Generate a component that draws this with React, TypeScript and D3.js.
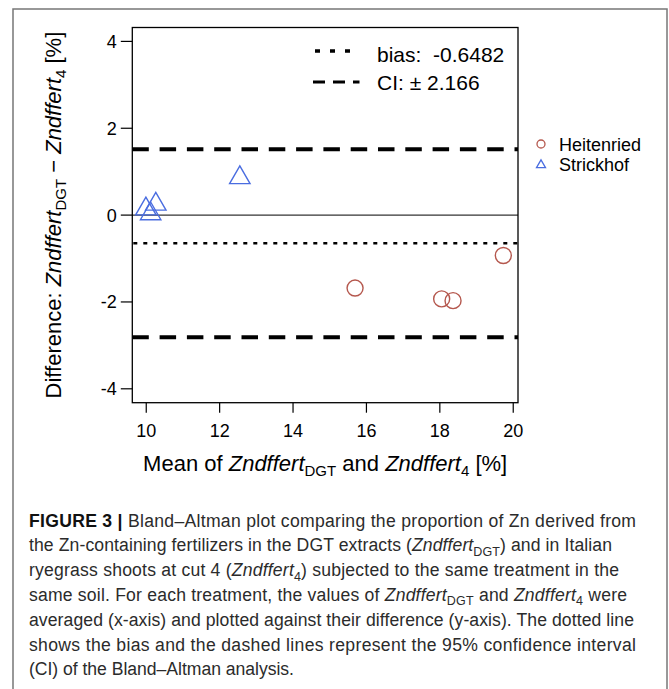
import React, { useEffect, useRef } from 'react';
import * as d3 from 'd3';

// values
const heitenriedX = [15.69, 18.05, 18.36, 19.73];
const heitenriedY = [-1.68, -1.93, -1.97, -0.93];
const strickhofX = [9.99, 10.12, 10.26, 12.55];
const strickhofY = [0.14, 0.03, 0.25, 0.86];
const bias = -0.6482;
const ciHalf = 2.166;
const xTicks = [10, 12, 14, 16, 18, 20];
const yTicks = [-4, -2, 0, 2, 4];
const seriesNames = ['Heitenried', 'Strickhof'];

type Seg = { t: string; s?: 'b' | 'i' | 'sub' };
const captionLines: Seg[][] = [
  [{ t: 'FIGURE 3 | ', s: 'b' }, { t: 'Bland–Altman plot comparing the proportion of Zn derived from' }],
  [
    { t: 'the Zn-containing fertilizers in the DGT extracts (' },
    { t: 'Zndffert', s: 'i' },
    { t: 'DGT', s: 'sub' },
    { t: ') and in Italian' },
  ],
  [
    { t: 'ryegrass shoots at cut 4 (' },
    { t: 'Zndffert', s: 'i' },
    { t: '4', s: 'sub' },
    { t: ') subjected to the same treatment in the' },
  ],
  [
    { t: 'same soil. For each treatment, the values of ' },
    { t: 'Zndffert', s: 'i' },
    { t: 'DGT', s: 'sub' },
    { t: ' and ' },
    { t: 'Zndffert', s: 'i' },
    { t: '4', s: 'sub' },
    { t: ' were' },
  ],
  [{ t: 'averaged (x-axis) and plotted against their difference (y-axis). The dotted line' }],
  [{ t: 'shows the bias and the dashed lines represent the 95% confidence interval' }],
  [{ t: '(CI) of the Bland–Altman analysis.' }],
];
// measured line widths of the caption in the figure
const captionWidths = [607, 583, 590, 598, 605, 607, 265];

const W = 669;
const H = 689;
const FONT = 'Arial, "Liberation Sans", Helvetica, sans-serif';
const RED = '#b5584e';
const BLUE = '#4a6de0';

const triangle = (r: number) => {
  const hw = r * 0.866;
  return `M0,${-r}L${hw},${r / 2}L${-hw},${r / 2}Z`;
};

const App: React.FC = () => {
  const svgRef = useRef<SVGSVGElement>(null);

  useEffect(() => {
    if (!svgRef.current) return;
    const svg = d3.select(svgRef.current);
    svg.selectAll('*').remove();

    const box = { left: 132.3, right: 518, top: 27.5, bottom: 402.7 };
    const x = d3.scaleLinear().domain([9.62, 20.13]).range([box.left, box.right]);
    const y = d3.scaleLinear().domain([-4.32, 4.32]).range([box.bottom, box.top]);

    // outer figure frame
    svg
      .append('rect')
      .attr('x', 13)
      .attr('y', 9)
      .attr('width', 654)
      .attr('height', 700)
      .attr('fill', 'none')
      .attr('stroke', '#777')
      .attr('stroke-width', 1.5);

    const g = svg.append('g');

    // reference lines
    g.append('line')
      .attr('x1', box.left).attr('x2', box.right)
      .attr('y1', y(0)).attr('y2', y(0))
      .attr('stroke', '#000').attr('stroke-width', 1);

    g.append('line')
      .attr('x1', box.left + 1).attr('x2', box.right)
      .attr('y1', y(bias)).attr('y2', y(bias))
      .attr('stroke', '#000').attr('stroke-width', 2.5)
      .attr('stroke-dasharray', '4 6');

    [bias + ciHalf, bias - ciHalf].forEach((v) => {
      g.append('line')
        .attr('x1', box.left).attr('x2', box.right)
        .attr('y1', y(v)).attr('y2', y(v))
        .attr('stroke', '#000').attr('stroke-width', 4)
        .attr('stroke-dasharray', '16.5 10.8');
    });

    // plot box
    g.append('rect')
      .attr('x', box.left).attr('y', box.top)
      .attr('width', box.right - box.left).attr('height', box.bottom - box.top)
      .attr('fill', 'none').attr('stroke', '#000').attr('stroke-width', 1.3);

    // y axis
    yTicks.forEach((t) => {
      g.append('line')
        .attr('x1', box.left - 11.5).attr('x2', box.left)
        .attr('y1', y(t)).attr('y2', y(t))
        .attr('stroke', '#000').attr('stroke-width', 1.2);
      g.append('text')
        .attr('x', box.left - 15.5).attr('y', y(t)).attr('dy', '0.36em')
        .attr('text-anchor', 'end')
        .style('font-family', FONT).style('font-size', '18px')
        .text(String(t));
    });

    // x axis
    xTicks.forEach((t) => {
      g.append('line')
        .attr('x1', x(t)).attr('x2', x(t))
        .attr('y1', box.bottom).attr('y2', box.bottom + 10)
        .attr('stroke', '#000').attr('stroke-width', 1.2);
      g.append('text')
        .attr('x', x(t)).attr('y', 436.5)
        .attr('text-anchor', 'middle')
        .style('font-family', FONT).style('font-size', '18px')
        .text(String(t));
    });

    // axis titles
    const xt = g.append('text')
      .attr('x', (box.left + box.right) / 2).attr('y', 470.5)
      .attr('text-anchor', 'middle')
      .style('font-family', FONT).style('font-size', '22px');
    xt.append('tspan').text('Mean of ');
    xt.append('tspan').style('font-style', 'italic').text('Zndffert');
    xt.append('tspan').style('font-size', '15px').attr('dy', 5).text('DGT');
    xt.append('tspan').attr('dy', -5).text(' and ');
    xt.append('tspan').style('font-style', 'italic').text('Zndffert');
    xt.append('tspan').style('font-size', '15px').attr('dy', 5).text('4');
    xt.append('tspan').attr('dy', -5).text(' [%]');

    const yt = g.append('text')
      .attr('transform', `translate(61,${(box.top + box.bottom) / 2}) rotate(-90)`)
      .attr('text-anchor', 'middle')
      .style('font-family', FONT).style('font-size', '22px');
    yt.append('tspan').text('Difference: ');
    yt.append('tspan').style('font-style', 'italic').text('Zndffert');
    yt.append('tspan').style('font-size', '15px').attr('dy', 5).text('DGT');
    yt.append('tspan').attr('dy', -5).text(' − ');
    yt.append('tspan').style('font-style', 'italic').text('Zndffert');
    yt.append('tspan').style('font-size', '15px').attr('dy', 5).text('4');
    yt.append('tspan').attr('dy', -5).text(' [%]');

    // points
    g.selectAll('circle.heit')
      .data(d3.zip(heitenriedX, heitenriedY))
      .enter()
      .append('circle')
      .attr('class', 'heit')
      .attr('cx', (d) => x(d[0])).attr('cy', (d) => y(d[1]))
      .attr('r', 8)
      .attr('fill', 'none').attr('stroke', RED).attr('stroke-width', 1.4);

    g.selectAll('path.strick')
      .data(d3.zip(strickhofX, strickhofY))
      .enter()
      .append('path')
      .attr('class', 'strick')
      .attr('transform', (d) => `translate(${x(d[0])},${y(d[1])})`)
      .attr('d', triangle(11.8))
      .attr('fill', 'none').attr('stroke', BLUE).attr('stroke-width', 1.4);

    // inner legend (bias / CI)
    g.append('line')
      .attr('x1', 315).attr('x2', 351).attr('y1', 51).attr('y2', 51)
      .attr('stroke', '#000').attr('stroke-width', 3.5).attr('stroke-dasharray', '5 10');
    g.append('line')
      .attr('x1', 313).attr('x2', 359.5).attr('y1', 82).attr('y2', 82)
      .attr('stroke', '#000').attr('stroke-width', 2.8).attr('stroke-dasharray', '12 8');
    g.append('text')
      .attr('x', 377).attr('y', 61.7)
      .style('font-family', FONT).style('font-size', '21px')
      .style('white-space', 'pre')
      .text(`bias:  ${bias}`);
    g.append('text')
      .attr('x', 377).attr('y', 90)
      .style('font-family', FONT).style('font-size', '21px')
      .text(`CI: ± ${ciHalf}`);

    // outer legend (series)
    g.append('circle')
      .attr('cx', 541).attr('cy', 144).attr('r', 4)
      .attr('fill', 'none').attr('stroke', RED).attr('stroke-width', 1.3);
    g.append('path')
      .attr('transform', 'translate(541,165)')
      .attr('d', triangle(5.2))
      .attr('fill', 'none').attr('stroke', BLUE).attr('stroke-width', 1.3);
    seriesNames.forEach((name, i) => {
      g.append('text')
        .attr('x', 559).attr('y', 150.5 + i * 20.8)
        .style('font-family', FONT).style('font-size', '18px')
        .text(name);
    });

    // caption
    const cap = svg.append('g');
    captionLines.forEach((line, i) => {
      const txt = cap.append('text')
        .attr('x', 29).attr('y', 526.5 + i * 24.8)
        .attr('textLength', captionWidths[i])
        .attr('lengthAdjust', 'spacing')
        .style('font-family', FONT).style('font-size', '17.6px')
        .style('fill', '#2b2b2b')
        .style('white-space', 'pre');
      let shifted = false;
      line.forEach((p) => {
        const ts = txt.append('tspan').text(p.t);
        if (shifted && p.s !== 'sub') {
          ts.attr('dy', -4.5);
          shifted = false;
        }
        if (p.s === 'b') ts.style('font-weight', 'bold').style('fill', '#111');
        if (p.s === 'i') ts.style('font-style', 'italic');
        if (p.s === 'sub') {
          ts.style('font-size', '12.5px').attr('dy', 4.5);
          shifted = true;
        }
      });
    });
  }, []);

  return (
    <div style={{ position: 'absolute', left: 0, top: 0, width: W, height: H, background: '#fff' }}>
      <svg ref={svgRef} width={W} height={H} style={{ display: 'block' }} />
    </div>
  );
};

export default App;
